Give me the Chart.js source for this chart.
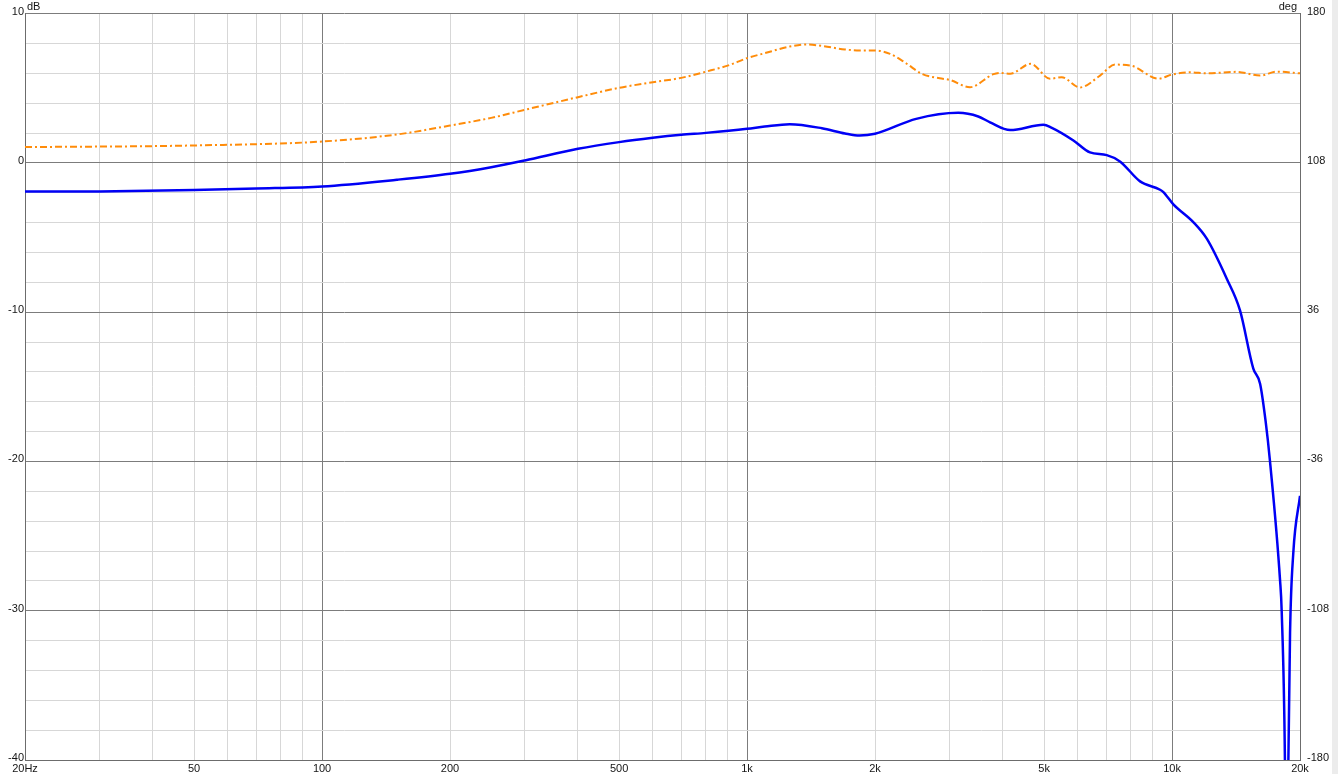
<!DOCTYPE html>
<html lang="en">
<head>
  <meta charset="UTF-8" />
  <title>Frequency response</title>
  <script src="https://cdn.jsdelivr.net/npm/chart.js"></script>
  <style>
    body { margin: 0; background: #fff; font-family: 'Liberation Sans', sans-serif; }
    #wrap { position: relative; width: 1338px; height: 774px; }
    #edge { position: absolute; left: 1332px; top: 0; width: 6px; height: 774px; background: #ececec; }
  </style>
</head>
<body>
  <div id="wrap">
    <canvas id="chart"></canvas>
    <div id="edge"></div>
  </div>

  <script>
    // SPL trace (left axis, dB)
    const splFreq = [20, 30, 50, 70, 100, 150, 200, 250, 300, 400, 500, 600, 700, 800, 1000, 1100, 1260, 1500, 1700, 1840,
      2000, 2500, 3140, 3500, 3730, 4160, 4980, 5200, 5860, 6410, 7020, 7540, 8410, 9370, 9540, 10070, 11220, 12070, 13450,
      14450, 15530, 16110, 16600, 17000, 17950, 18110, 18440, 18600, 18770, 18950, 19290, 20000];
    const splDb = [-1.92, -1.91, -1.82, -1.72, -1.58, -1.13, -0.73, -0.29, 0.16, 0.94, 1.39, 1.68, 1.88, 2.01, 2.28, 2.43, 2.59, 2.32, 1.97, 1.83,
      1.95, 2.95, 3.35, 3.11, 2.72, 2.2, 2.55, 2.36, 1.5, 0.7, 0.52, 0.1, -1.24, -1.8, -1.96, -2.78, -3.97, -5.08, -7.76,
      -9.88, -13.78, -14.79, -17.3, -20.0, -27.95, -30.0, -40.5, -55, -40.5, -31.5, -26.1, -22.3];

    // Phase trace (right axis, deg)
    const phaseFreq = [20, 50, 100, 150, 200, 250, 300, 400, 500, 600, 700, 800, 900, 1000, 1100, 1260, 1380, 1500, 1700, 1840,
      2000, 2170, 2375, 2580, 2840, 3000, 3345, 3800, 3940, 4160, 4650, 5160, 5500, 6070, 6770, 7340, 8040, 9280, 10000,
      11020, 12070, 14190, 16110, 17630, 20000];
    const phaseDeg = [115.6, 116.4, 118.3, 121.7, 126.0, 129.7, 133.6, 139.7, 144.2, 146.9, 149.0, 152.0, 154.9, 158.5, 160.9, 164.1, 165.1, 164.4, 162.7, 162.2,
      162.2, 160.6, 155.8, 150.9, 148.8, 148.0, 144.5, 150.8, 151.4, 151.0, 155.8, 148.6, 149.3, 144.4, 150.1, 155.4, 154.8, 148.6, 150.6,
      151.7, 151.2, 151.9, 150.1, 152.0, 151.2];

    const freqGrid = [20, 30, 40, 50, 60, 70, 80, 90, 100, 200, 300, 400, 500, 600, 700, 800, 900,
      1000, 2000, 3000, 4000, 5000, 6000, 7000, 8000, 9000, 10000, 20000];
    const freqMajor = [100, 1000, 10000];
    const freqLabels = { 20: '20Hz', 50: '50', 100: '100', 200: '200', 500: '500', 1000: '1k', 2000: '2k', 5000: '5k', 10000: '10k', 20000: '20k' };
    const dbGrid = [-40, -38, -36, -34, -32, -30, -28, -26, -24, -22, -20, -18, -16, -14, -12, -10, -8, -6, -4, -2,
      0, 2, 4, 6, 8, 10];
    const dbLabels = [10, 0, -10, -20, -30, -40];
    const degTicks = [-180, -108, -36, 36, 108, 180];

    const MAJOR = '#7c7c7c', MINOR = '#d7d7d7', FRAME = '#6c6c6c', TEXT = '#151515';
    const tickFont = { family: 'Liberation Sans', size: 11 };

    const unitLabels = {
      id: 'unitLabels',
      afterDraw(chart) {
        const ctx = chart.ctx, area = chart.chartArea;
        ctx.save();
        ctx.font = '11px "Liberation Sans"';
        ctx.fillStyle = TEXT;
        ctx.textBaseline = 'top';
        ctx.textAlign = 'left';
        ctx.fillText('dB', area.left + 2, 1);
        ctx.textAlign = 'right';
        ctx.fillText('deg', area.right - 3, 1);
        ctx.restore();
      }
    };

    new Chart(document.getElementById('chart'), {
      type: 'line',
      data: {
        datasets: [
          {
            label: 'SPL',
            data: splFreq.map((f, i) => ({ x: f, y: splDb[i] })),
            yAxisID: 'y',
            borderColor: '#0000f5',
            borderWidth: 2.5,
            pointRadius: 0,
            cubicInterpolationMode: 'monotone'
          },
          {
            label: 'Phase',
            data: phaseFreq.map((f, i) => ({ x: f, y: phaseDeg[i] })),
            yAxisID: 'y2',
            borderColor: '#ff8c0a',
            borderWidth: 2,
            borderDash: [7, 3, 2, 3],
            pointRadius: 0,
            cubicInterpolationMode: 'monotone'
          }
        ]
      },
      options: {
        responsive: true,
        maintainAspectRatio: false,
        animation: false,
        layout: { padding: { top: 13 } },
        plugins: { legend: { display: false }, tooltip: { enabled: false } },
        scales: {
          x: {
            type: 'logarithmic',
            min: 20,
            max: 20000,
            afterBuildTicks: s => { s.ticks = freqGrid.map(v => ({ value: v })); },
            afterFit: s => { s.height = 14; },
            ticks: {
              autoSkip: false, maxRotation: 0, padding: 2, color: TEXT, font: tickFont,
              callback: v => freqLabels[v] || ''
            },
            grid: { drawTicks: false, color: c => freqMajor.includes(c.tick.value) ? MAJOR : MINOR },
            border: { color: FRAME }
          },
          y: {
            position: 'left',
            min: -40,
            max: 10,
            afterBuildTicks: s => { s.ticks = dbGrid.map(v => ({ value: v })); },
            afterFit: s => { s.width = 25; },
            ticks: {
              autoSkip: false, padding: 1, labelOffset: -2, color: TEXT, font: tickFont,
              callback: v => dbLabels.includes(v) ? String(v) : ''
            },
            grid: { drawTicks: false, color: c => (c.tick.value % 10 === 0) ? MAJOR : MINOR },
            border: { color: FRAME }
          },
          y2: {
            position: 'right',
            min: -180,
            max: 180,
            afterBuildTicks: s => { s.ticks = degTicks.map(v => ({ value: v })); },
            afterFit: s => { s.width = 38; },
            ticks: { autoSkip: false, padding: 7, labelOffset: -2, color: TEXT, font: tickFont },
            grid: { display: false, drawTicks: false },
            border: { color: FRAME }
          }
        }
      },
      plugins: [unitLabels]
    });
  </script>
</body>
</html>
